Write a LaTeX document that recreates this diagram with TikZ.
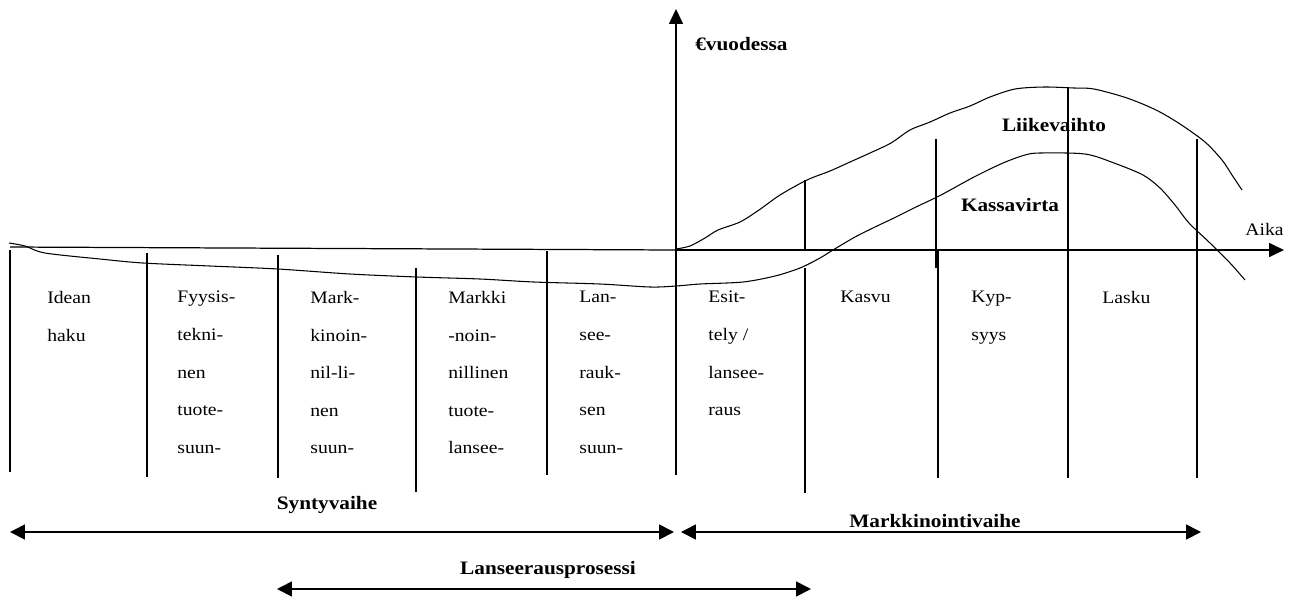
\documentclass[tikz,border=0pt]{standalone}
\usepackage{fontspec}
\setmainfont{Liberation Serif}[FakeStretch=1.12]
\usetikzlibrary{arrows.meta}

\begin{document}
\begin{tikzpicture}[x=0.02cm, y=-0.02cm,
    every node/.style={font=\fontsize{10}{21.4}\selectfont, inner sep=0pt},
    phase/.style={anchor=north west, align=left},
    curvelabel/.style={font=\fontsize{10.8}{13}\selectfont\bfseries},
    divider/.style={line width=0.6pt},
    axis/.style={line width=0.7pt, -{Triangle[length=8.5pt, width=8pt]}},
    span/.style={line width=1pt, {Triangle[length=8.5pt, width=8.5pt]}-{Triangle[length=8.5pt, width=8.5pt]}}]
  \useasboundingbox (0,0) rectangle (1298,596);

  % axes
  \coordinate (origin) at (676,250);
  \coordinate (ybottom) at (676,475);
  \coordinate (ytip) at (676,9);
  \coordinate (xstart) at (10,247);
  \coordinate (xtip) at (1284,250);
  \draw[axis] (ybottom) -- (ytip);
  \draw[line width=0.7pt] (xstart) -- (origin);
  \draw[axis] (origin) -- (xtip);
  \node[curvelabel, anchor=west] (yname) at (695,44) {€vuodessa};
  \node[anchor=west] (xname) at (1245,229) {Aika};

  % curves
  \draw[line width=0.6pt] plot[smooth] coordinates {(676,249) (690,246) (705,238) (718,230) (740,222) (759,210)
    (780,195) (807,180) (830,171) (850,162) (870,153) (891,143) (910,130) (930,122) (950,113) (970,106)
    (990,97) (1015,89) (1044,87) (1074,88) (1094,89) (1127,98) (1156,110) (1180,124) (1205,142)
    (1222,160) (1232,175) (1242,190)};
  \draw[line width=0.6pt] plot[smooth] coordinates {(9,243) (25,246) (45,253) (100,259) (143,263) (210,266)
    (278,269) (350,274) (417,277) (480,279) (534,282) (600,284) (650,287) (676,286) (700,284) (743,282)
    (775,276) (800,268) (820,258) (833,250) (855,237) (875,227) (896,217) (916,207) (941,195) (974,177)
    (1003,163) (1025,155) (1040,153) (1085,154) (1114,163) (1143,175) (1160,188) (1175,205) (1189,223)
    (1210,243) (1230,263) (1245,280)};
  \node[curvelabel] (liikevaihto) at (1054,125) {Liikevaihto};
  \node[curvelabel] (kassavirta) at (1010,205) {Kassavirta};

  % phase dividers
  \draw[divider] (10,250) -- (10,472);
  \draw[divider] (147,253) -- (147,477);
  \draw[divider] (278,255) -- (278,478);
  \draw[divider] (416,268) -- (416,492);
  \draw[divider] (547,251) -- (547,475);
  \draw[divider] (805,180) -- (805,249);
  \draw[divider] (805,268) -- (805,493);
  \draw[divider] (936,139) -- (936,268);
  \draw[divider] (938,251) -- (938,478);
  \draw[divider] (1068,88) -- (1068,478);
  \draw[divider] (1197,139) -- (1197,478);

  % phase texts
  \node[phase] (idean) at (47,291) {Idean\\haku};
  \node[phase] (fyysis) at (177,291) {Fyysis-\\tekni-\\nen\\tuote-\\suun-};
  \node[phase] (mark) at (310,291) {Mark-\\kinoin-\\nil-li-\\nen\\suun-};
  \node[phase] (markki) at (448,291) {Markki\\-noin-\\nillinen\\tuote-\\lansee-};
  \node[phase] (lan) at (579,291) {Lan-\\see-\\rauk-\\sen\\suun-};
  \node[phase] (esit) at (708,291) {Esit-\\tely /\\lansee-\\raus};
  \node[phase] (kasvu) at (840,291) {Kasvu};
  \node[phase] (kyp) at (971,291) {Kyp-\\syys};
  \node[phase] (lasku) at (1102,291) {Lasku};

  % spans
  \coordinate (synL) at (10,532);
  \coordinate (synR) at (674,532);
  \coordinate (markL) at (681,532);
  \coordinate (markR) at (1201,532);
  \coordinate (lanL) at (277,589);
  \coordinate (lanR) at (811,589);
  \draw[span] (synL) -- (synR);
  \draw[span] (markL) -- (markR);
  \draw[span] (lanL) -- (lanR);
  \node[curvelabel] (syntyvaihe) at (327,505) {Syntyvaihe};
  \node[curvelabel] (markkinointivaihe) at (935,521) {Markkinointivaihe};
  \node[curvelabel] (lanseerausprosessi) at (548,570) {Lanseerausprosessi};
\end{tikzpicture}
\end{document}
